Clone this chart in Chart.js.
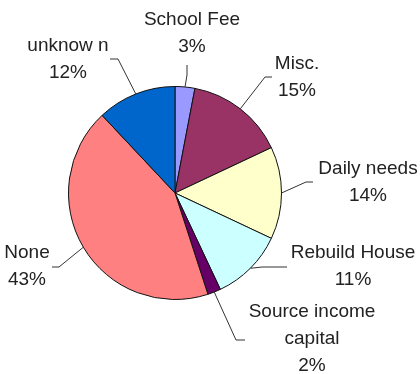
<!DOCTYPE html>
<html>
<head>
<meta charset="utf-8">
<script src="https://cdn.jsdelivr.net/npm/chart.js@4.4.1/dist/chart.umd.min.js"></script>
<style>
  html, body { margin: 0; padding: 0; background: #fff; }
  #pie { display: block; }
</style>
</head>
<body>
<canvas id="pie" width="420" height="374"></canvas>
<script>
// Data (clockwise from 12 o'clock)
const categories = ['School Fee', 'Misc.', 'Daily needs', 'Rebuild House', 'Source income capital', 'None', 'unknow n'];
const percents = [3, 15, 14, 11, 2, 43, 12];
const sliceColors = ['#9999ff', '#993366', '#ffffcc', '#ccffff', '#660066', '#ff8080', '#0066cc'];

// Label text lines, split the way the picture wraps them
const labelLines = [
  ['School Fee'],
  ['Misc.'],
  ['Daily needs'],
  ['Rebuild House'],
  ['Source income', 'capital'],
  ['None'],
  ['unknow n']
];

// Where each label sits and how its leader line bends (layout only)
const labelLayout = [
  { x: 192, y: 25, elbow: [187, 75], end: [187, 65] },
  { x: 297, y: 69, elbow: [265, 77], end: [272, 77] },
  { x: 368, y: 174, elbow: [306, 182], end: [313, 182] },
  { x: 353, y: 258, elbow: [262, 267], end: [287, 267] },
  { x: 312, y: 317, elbow: [236, 340], end: [245, 340] },
  { x: 27, y: 258, elbow: [59, 267], end: [52, 267] },
  { x: 68, y: 51, elbow: [118, 59], end: [110, 59] }
];

const LINE_GAP = 27;

/* ---------------------------------------------------------------------------
    OUTSIDE LABELS WITH LEADER LINES
--------------------------------------------------------------------------- */
const outsideLabels = {
  id: 'outsideLabels',
  afterDatasetsDraw(chart) {
    const ctx = chart.ctx;
    const arcs = chart.getDatasetMeta(0).data;
    ctx.save();

    arcs.forEach((arc, i) => {
      const { x, y, startAngle, endAngle, outerRadius } =
        arc.getProps(['x', 'y', 'startAngle', 'endAngle', 'outerRadius'], true);
      const mid = (startAngle + endAngle) / 2;
      const edgeX = x + Math.cos(mid) * outerRadius;
      const edgeY = y + Math.sin(mid) * outerRadius;
      const lay = labelLayout[i];

      // leader line: pie edge -> elbow -> short tail
      ctx.strokeStyle = '#333';
      ctx.lineWidth = 1;
      ctx.beginPath();
      ctx.moveTo(edgeX, edgeY);
      ctx.lineTo(lay.elbow[0], lay.elbow[1]);
      ctx.lineTo(lay.end[0], lay.end[1]);
      ctx.stroke();

      // text lines + percentage
      const lines = [...labelLines[i], `${percents[i]}%`];
      ctx.fillStyle = '#222';
      ctx.font = '19px "Liberation Sans", Arial, sans-serif';
      ctx.textAlign = 'center';
      ctx.textBaseline = 'alphabetic';
      lines.forEach((txt, k) => ctx.fillText(txt, lay.x, lay.y + k * LINE_GAP));
    });

    ctx.restore();
  }
};

const ctx = document.getElementById('pie').getContext('2d');

new Chart(ctx, {
  type: 'pie',
  data: {
    labels: categories,
    datasets: [{
      data: percents,
      backgroundColor: sliceColors,
      borderColor: '#111',
      borderWidth: 1
    }]
  },
  options: {
    responsive: false,
    animation: false,
    layout: { padding: { top: 86, bottom: 74, left: 68, right: 138 } },
    plugins: {
      legend: { display: false },
      tooltip: { enabled: false }
    }
  },
  plugins: [outsideLabels]
});
</script>
</body>
</html>
